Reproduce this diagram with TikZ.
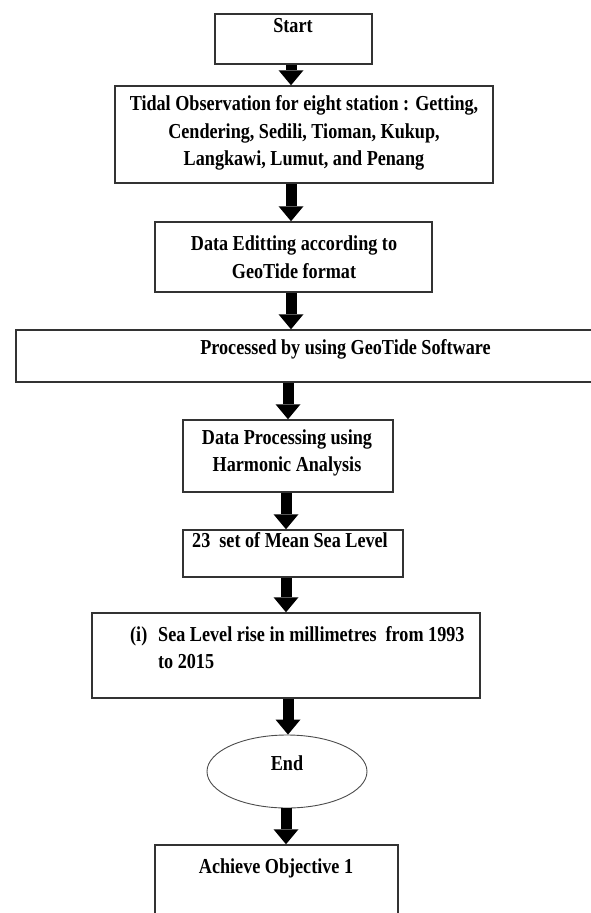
\documentclass[tikz,border=0pt]{standalone}
\usepackage{fontspec}
\setmainfont{Liberation Serif}[FakeStretch=0.852]
\usetikzlibrary{arrows.meta,shapes.geometric}
\begin{document}
\begin{tikzpicture}[x=1pt,y=-1pt,
  box/.style={draw=black!80, line width=1.5pt, rectangle, inner sep=0pt},
  txt/.style={font=\fontsize{21.3}{27.5}\selectfont\bfseries, align=center, inner sep=0pt},
  arr/.style={line width=11pt, -{Triangle[width=25pt,length=15pt,line width=0pt]}}
  ]
\useasboundingbox (0,0) rectangle (591,913);
% boxes
\node[box, minimum width=157pt, minimum height=50pt] (start) at (293.5,39) {};
\node[txt] (startt) at (293,26) {Start};
\node[box, minimum width=378pt, minimum height=97pt] (tidal) at (304,134.5) {};
\node[txt] (tidalt) at (304,133) {Tidal Observation for eight station : Getting,\\Cendering, Sedili, Tioman, Kukup,\\Langkawi, Lumut, and Penang};
\node[box, minimum width=277pt, minimum height=70pt] (edit) at (293.5,257) {};
\node[txt] (editt) at (294,257) {Data Editting according to\\GeoTide format};
\node[box, minimum width=659pt, minimum height=52pt] (proc) at (345.5,356) {};
\node[txt] (proct) at (345.5,349) {Processed by using GeoTide Software};
\node[box, minimum width=210pt, minimum height=72pt] (harm) at (288,456) {};
\node[txt] (harmt) at (287,453) {Data Processing using\\Harmonic Analysis};
\node[box, minimum width=220pt, minimum height=47pt] (msl) at (293,553.5) {};
\node[txt, anchor=west] (mslt) at (192,540) {23\ \ set of Mean Sea Level};
\node[box, minimum width=388pt, minimum height=85pt] (slr) at (286,655.5) {};
\node[txt, anchor=west, align=left] (slrt) at (130,647.5) {\makebox[28pt][l]{(i)}Sea Level rise in millimetres\ \ from 1993\\\hspace*{28pt}to 2015};
\node[ellipse, draw=black!70, line width=0.9pt, minimum width=160pt, minimum height=73pt, inner sep=0pt] (end) at (287,771.5) {};
\node[txt] (endt) at (287,763) {End};
\node[box, minimum width=243pt, minimum height=100pt] (obj) at (276.5,895) {};
\node[txt] (objt) at (276,868) {Achieve Objective 1};
% arrow axes
\coordinate (ca) at (291,0);
\coordinate (cb) at (288,0);
\coordinate (cc) at (286,0);
% arrows
\draw[arr] (start.south -| ca) -- (tidal.north -| ca);
\draw[arr] (tidal.south -| ca) -- (edit.north -| ca);
\draw[arr] (edit.south -| ca) -- (proc.north -| ca);
\draw[arr] (proc.south -| cb) -- (harm.north -| cb);
\draw[arr] (harm.south -| cc) -- (msl.north -| cc);
\draw[arr] (msl.south -| cc) -- (slr.north -| cc);
\draw[arr] (slr.south -| cb) -- (end.north -| cb);
\draw[arr] (end.south -| cc) -- (obj.north -| cc);
\end{tikzpicture}
\end{document}
